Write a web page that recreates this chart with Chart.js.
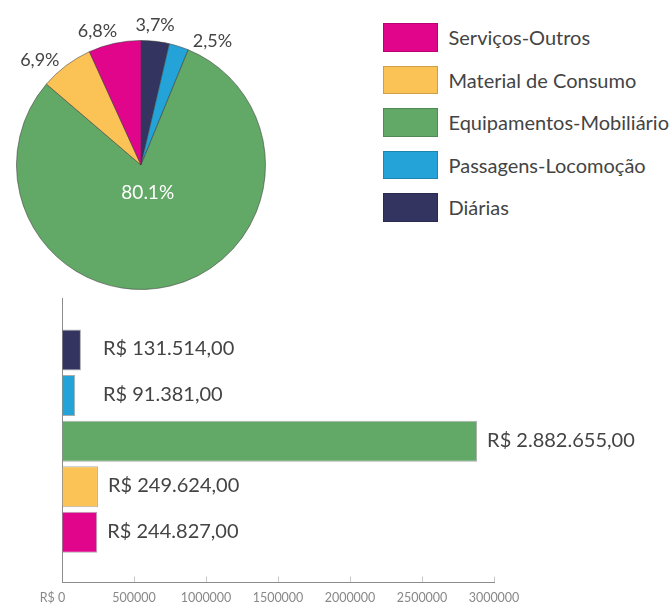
<!DOCTYPE html>
<html lang="pt-BR">
<head>
<meta charset="utf-8">
<title>Despesas por categoria</title>
<script src="https://cdn.jsdelivr.net/npm/chart.js@4.4.1/dist/chart.umd.min.js"></script>
<style>
    html, body { margin: 0; padding: 0; background: #fff; }
    #wrap { position: relative; width: 670px; height: 605px; overflow: hidden; font-family: Lato, sans-serif; }
    #pieCanvas { position: absolute; left: 0; top: 0; }
    #barCanvas { position: absolute; left: 0; top: 295px; }
    #legend { position: absolute; left: 383px; top: 23px; margin: 0; padding: 0; list-style: none; }
    #legend li { display: flex; align-items: center; height: 28.5px; margin-bottom: 14px; }
    #legend .box { width: 54.5px; height: 28.5px; box-sizing: border-box; border: 1px solid rgba(0, 0, 0, 0.18); }
    #legend .txt { margin-left: 11px; font-size: 20px; color: #444; white-space: nowrap; }
</style>
</head>
<body>
<div id="wrap">
    <canvas id="pieCanvas" width="300" height="300"></canvas>
    <ul id="legend"></ul>
    <canvas id="barCanvas" width="670" height="310"></canvas>
</div>
<script>
// ---- data ----
const categories = ['Diárias', 'Passagens-Locomoção', 'Equipamentos-Mobiliário', 'Material de Consumo', 'Serviços-Outros'];
const amounts = [131514, 91381, 2882655, 249624, 244827];
const sliceColors = ['#33345f', '#23a3d7', '#62a866', '#fbc356', '#e1058b'];
const axisMax = 3000000;
const axisStep = 500000;

Chart.defaults.font.family = 'Lato';
Chart.defaults.color = '#444';

const total = amounts.reduce((s, v) => s + v, 0);

// "R$ 2.882.655,00"
function formatMoney(v) {
    const whole = String(Math.round(v)).replace(/\B(?=(\d{3})+(?!\d))/g, '.');
    return 'R$ ' + whole + ',00';
}

/**
 * Percent labels: big slice inside, small ones outside,
 * pushed apart along the circle when they collide
 */
const pieLabels = {
    id: 'pieLabels',
    afterDraw(chart) {
        const ctx = chart.ctx;
        const arcs = chart.getDatasetMeta(0).data;
        const outside = [];
        let cx = 0, cy = 0, radius = 0;

        ctx.save();
        ctx.textAlign = 'center';
        ctx.textBaseline = 'middle';

        arcs.forEach((arc, i) => {
            const p = arc.getProps(['x', 'y', 'startAngle', 'endAngle', 'outerRadius'], true);
            const share = amounts[i] / total;
            const mid = (p.startAngle + p.endAngle) / 2;
            cx = p.x; cy = p.y; radius = p.outerRadius;

            if (share > 0.5) {
                ctx.font = '19px Lato';
                ctx.fillStyle = '#fff';
                const r = p.outerRadius * 0.23;
                ctx.fillText((share * 100).toFixed(1) + '%', p.x + Math.cos(mid) * r, p.y + Math.sin(mid) * r);
                return;
            }
            ctx.font = '18px Lato';
            const text = (share * 100).toFixed(1).replace('.', ',') + '%';
            outside.push({
                a: mid > Math.PI ? mid - 2 * Math.PI : mid,
                text: text,
                w: ctx.measureText(text).width,
                x: 0, y: 0
            });
        });

        // anchor just outside the rim, text box grows away from the pie
        const R = radius + 8;
        const h = 17, gapX = 18, gapY = 19, step = 0.002;
        outside.sort((p, q) => p.a - q.a);
        const place = l => {
            const c = Math.cos(l.a), s = Math.sin(l.a);
            l.x = cx + c * R + c * l.w / 2;
            l.y = cy + s * R + s * h / 2;
        };
        for (let it = 0; it < 3000; it++) {
            let moved = false;
            outside.forEach(place);
            for (let k = 0; k + 1 < outside.length; k++) {
                const A = outside[k], B = outside[k + 1];
                const ox = (A.w + B.w) / 2 + gapX - Math.abs(A.x - B.x);
                const oy = h + gapY - Math.abs(A.y - B.y);
                if (ox > 0 && oy > 0) {
                    A.a -= step;
                    B.a += step;
                    moved = true;
                }
            }
            if (!moved) break;
        }
        outside.forEach(place);

        ctx.font = '18px Lato';
        ctx.fillStyle = '#444';
        outside.forEach(l => ctx.fillText(l.text, l.x, l.y + 1));
        ctx.restore();
    }
};

const pieChart = new Chart(document.getElementById('pieCanvas'), {
    type: 'pie',
    data: {
        labels: categories,
        datasets: [{
            data: amounts,
            backgroundColor: sliceColors,
            borderColor: 'rgba(60, 60, 60, 0.55)',
            borderWidth: 1
        }]
    },
    options: {
        responsive: false,
        animation: false,
        layout: { padding: { left: 16, top: 40, right: 34, bottom: 10 } },
        plugins: {
            legend: { display: false },
            tooltip: { enabled: false }
        }
    },
    plugins: [pieLabels]
});

// HTML legend built from the pie's own legend items, listed bottom-up
const legendEl = document.getElementById('legend');
pieChart.options.plugins.legend.labels.generateLabels(pieChart).reverse().forEach(item => {
    const li = document.createElement('li');
    const box = document.createElement('span');
    box.className = 'box';
    box.style.background = item.fillStyle;
    const txt = document.createElement('span');
    txt.className = 'txt';
    txt.textContent = item.text;
    li.appendChild(box);
    li.appendChild(txt);
    legendEl.appendChild(li);
});

/**
 * Money label to the right of each bar
 */
const barLabels = {
    id: 'barLabels',
    afterDatasetsDraw(chart) {
        const ctx = chart.ctx;
        const left = chart.scales.x.left;
        ctx.save();
        ctx.font = '20px Lato';
        ctx.fillStyle = '#444';
        ctx.textAlign = 'left';
        ctx.textBaseline = 'middle';
        chart.getDatasetMeta(0).data.forEach((bar, i) => {
            const x = Math.max(bar.x + 10, left + 41);
            ctx.fillText(formatMoney(amounts[i]), x, bar.y - 1);
        });
        ctx.restore();
    }
};

new Chart(document.getElementById('barCanvas'), {
    type: 'bar',
    data: {
        datasets: [{
            data: amounts.map((v, i) => ({ x: v, y: i })),
            backgroundColor: sliceColors,
            borderColor: 'rgba(70, 70, 70, 0.45)',
            borderWidth: 1,
            categoryPercentage: 1,
            barPercentage: 0.9
        }]
    },
    options: {
        indexAxis: 'y',
        responsive: false,
        animation: false,
        layout: { padding: { left: 62, top: 3, right: 176, bottom: 0 } },
        scales: {
            x: {
                type: 'linear',
                min: 0,
                max: axisMax,
                afterFit: scale => { scale.height = 22.5; },
                ticks: {
                    stepSize: axisStep,
                    padding: 14,
                    color: '#888',
                    font: { size: 12.5 },
                    maxRotation: 0,
                    callback: v => (v === 0 ? 'R$ 0' + '\u00a0'.repeat(6) : String(v))
                },
                grid: {
                    drawOnChartArea: false,
                    drawTicks: true,
                    tickLength: -6,
                    color: '#c8c8c8'
                },
                border: { display: true, color: '#8c8c8c' }
            },
            y: {
                type: 'linear',
                reverse: true,
                offset: false,
                min: -1.14,
                max: 5.1,
                afterFit: scale => { scale.width = 0; },
                ticks: { display: false },
                grid: { display: false, offset: false },
                border: { display: true, color: '#8c8c8c' }
            }
        },
        plugins: {
            legend: { display: false },
            tooltip: { enabled: false }
        }
    },
    plugins: [barLabels]
});
</script>
</body>
</html>
